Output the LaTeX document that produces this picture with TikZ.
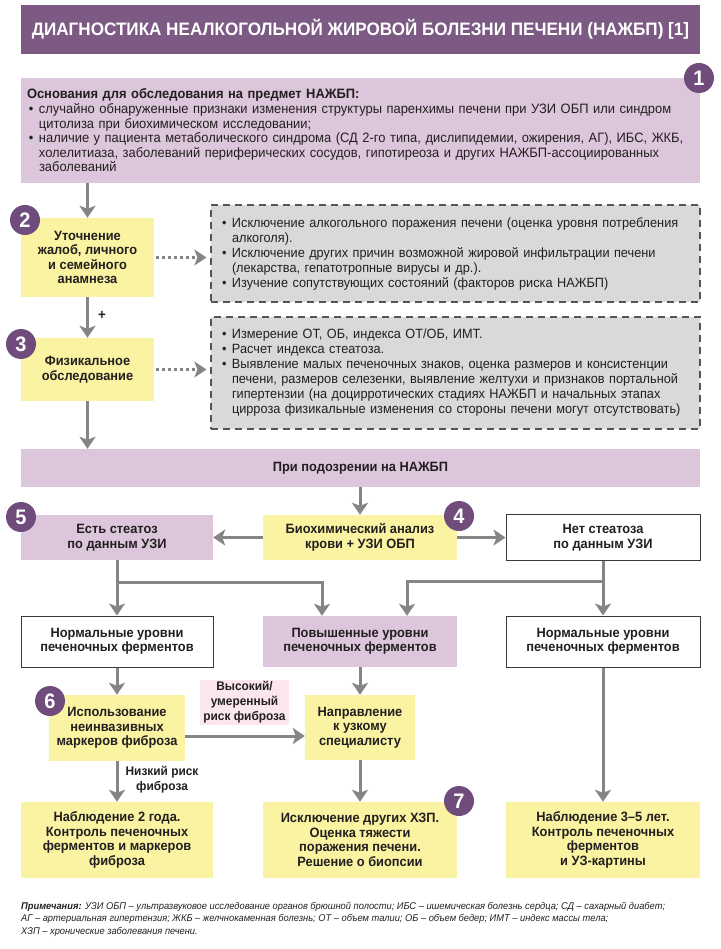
\documentclass[tikz,border=0pt]{standalone}
\usepackage{fontspec}
\setmainfont{Liberation Sans}[FakeStretch=0.95]
\usetikzlibrary{arrows.meta}

\definecolor{titlec}{HTML}{7C5A83}
\definecolor{numc}{HTML}{6F4C7B}
\definecolor{lil}{HTML}{DCC6DB}
\definecolor{yel}{HTML}{FAF3A1}
\definecolor{lgrey}{HTML}{D9D9D9}
\definecolor{gbord}{HTML}{555555}
\definecolor{arrc}{HTML}{858585}
\definecolor{pinkc}{HTML}{FBE6EE}
\definecolor{wbord}{HTML}{3A3A3A}
\definecolor{txt}{HTML}{231F20}

\newcommand{\blt}{\hspace*{2pt}\makebox[10pt][l]{\textbullet}}
\newcommand{\hng}{\hspace*{12pt}}

\begin{document}
\begin{tikzpicture}[x=1pt,y=-1pt,
  box/.style={rectangle, align=center, inner sep=2pt, text=txt,
    font=\bfseries\fontsize{13.5}{14.5}\selectfont},
  yel/.style={box, fill=yel},
  lil/.style={box, fill=lil},
  wht/.style={box, draw=wbord, line width=1pt, fill=white},
  note/.style={rectangle, draw=gbord, dash pattern=on 7pt off 5pt, line width=1.2pt,
    fill=lgrey, align=left, text=txt, text width=471pt, inner xsep=9pt,
    font=\fontsize{13.4}{15}\selectfont},
  num/.style={circle, fill=numc, text=white, inner sep=0pt, minimum size=30pt,
    font=\bfseries\fontsize{21}{21}\selectfont},
  arr/.style={draw=arrc, line width=3pt, -{Stealth[length=12pt,width=16pt,inset=3pt]}},
  dotarr/.style={arr, dash pattern=on 2.5pt off 3.5pt, shorten <=2pt, shorten >=4pt}]
\useasboundingbox (0,0) rectangle (720,949);

% title
\node[fill=titlec, minimum width=679pt, minimum height=49pt, text=white,
  font=\bfseries\fontsize{18}{18}\selectfont] (title) at (360.5,29.5)
  {ДИАГНОСТИКА НЕАЛКОГОЛЬНОЙ ЖИРОВОЙ БОЛЕЗНИ ПЕЧЕНИ (НАЖБП) [1]};

% 1
\node[fill=lil, minimum width=679pt, minimum height=105pt, text width=667pt,
  inner xsep=6pt, align=left, text=txt, font=\fontsize{13.6}{14.6}\selectfont] (osn) at (360.5,130.5)
  {\textbf{Основания для обследования на предмет НАЖБП:}\\
   \blt случайно обнаруженные признаки изменения структуры паренхимы печени при УЗИ ОБП или синдром\\
   \hng цитолиза при биохимическом исследовании;\\
   \blt наличие у пациента метаболического синдрома (СД 2-го типа, дислипидемии, ожирения, АГ), ИБС, ЖКБ,\\
   \hng холелитиаза, заболеваний периферических сосудов, гипотиреоза и других НАЖБП-ассоциированных\\
   \hng заболеваний};

% 2, 3
\node[yel, minimum width=133pt, minimum height=79pt] (utoch) at (87.5,257.5)
  {Уточнение\\жалоб, личного\\и семейного\\анамнеза};
\node[yel, minimum width=133pt, minimum height=63pt] (fiz) at (87.5,369.5)
  {Физикальное\\обследование};
\node[note, minimum height=97pt] (excA) at (455.5,253.5)
  {\blt Исключение алкогольного поражения печени (оценка уровня потребления\\
   \hng алкоголя).\\
   \blt Исключение других причин возможной жировой инфильтрации печени\\
   \hng (лекарства, гепатотропные вирусы и др.).\\
   \blt Изучение сопутствующих состояний (факторов риска НАЖБП)};
\node[note, minimum height=112pt] (excB) at (455.5,373)
  {\blt Измерение ОТ, ОБ, индекса ОТ/ОБ, ИМТ.\\
   \blt Расчет индекса стеатоза.\\
   \blt Выявление малых печеночных знаков, оценка размеров и консистенции\\
   \hng печени, размеров селезенки, выявление желтухи и признаков портальной\\
   \hng гипертензии (на доцирротических стадиях НАЖБП и начальных этапах\\
   \hng цирроза физикальные изменения со стороны печени могут отсутствовать)};
\node[font=\bfseries\fontsize{14}{14}\selectfont, text=txt] (plus) at (102,315) {+};

% suspicion
\node[lil, minimum width=679pt, minimum height=38pt] (podozr) at (360.5,468)
  {При подозрении на НАЖБП};

% 4, 5
\node[lil, minimum width=192pt, minimum height=45pt] (est) at (117,537.5)
  {Есть стеатоз\\по данным УЗИ};
\node[yel, minimum width=194pt, minimum height=45pt] (bio) at (360,537.5)
  {Биохимический анализ\\крови + УЗИ ОБП};
\node[wht, minimum width=194pt, minimum height=46pt] (net) at (603,537.5)
  {Нет стеатоза\\по данным УЗИ};

\node[wht, minimum width=192pt, minimum height=51pt] (normL) at (117,641.5)
  {Нормальные уровни\\печеночных ферментов};
\node[lil, minimum width=194pt, minimum height=51pt] (povysh) at (360,641.5)
  {Повышенные уровни\\печеночных ферментов};
\node[wht, minimum width=194pt, minimum height=51pt] (normR) at (603,641.5)
  {Нормальные уровни\\печеночных ферментов};

% 6
\node[yel, minimum width=136pt, minimum height=66pt] (isp) at (117,728)
  {Использование\\неинвазивных\\маркеров фиброза};
\node[yel, minimum width=110pt, minimum height=65pt] (napr) at (360,727.5)
  {Направление\\к узкому\\специалисту};
\node[box, fill=pinkc, minimum width=89pt, minimum height=45pt,
  font=\bfseries\fontsize{12.5}{15}\selectfont] (risk) at (244.5,702.5)
  {Высокий/\\умеренный\\риск фиброза};
\node[box, font=\bfseries\fontsize{12.5}{15}\selectfont] (low) at (162,779.5)
  {Низкий риск\\фиброза};

% 7
\node[yel, minimum width=192pt, minimum height=76pt] (obs2) at (117,840)
  {Наблюдение 2 года.\\Контроль печеночных\\ферментов и маркеров\\фиброза};
\node[yel, minimum width=194pt, minimum height=76pt] (excl) at (360,840)
  {Исключение других ХЗП.\\Оценка тяжести\\поражения печени.\\Решение о биопсии};
\node[yel, minimum width=194pt, minimum height=76pt] (obs35) at (603,840)
  {Наблюдение 3--5 лет.\\Контроль печеночных\\ферментов\\и УЗ-картины};

% connectors
\coordinate (brL) at (117,582);
\coordinate (brR) at (603,581);
\coordinate (rk) at (0,736);
\draw[arr] (utoch.north |- osn.south) -- (utoch.north);
\draw[arr] (utoch) -- (fiz);
\draw[arr] (fiz.south) -- (fiz.south |- podozr.north);
\draw[arr] (bio |- podozr.south) -- (bio.north);
\draw[arr] (bio) -- (est);
\draw[arr] (bio) -- (net);
\draw[arr] (est) -- (normL);
\draw[arr] (brL) -| ([xshift=-38pt]povysh.north);
\draw[arr] (net) -- (normR);
\draw[arr] (brR) -| ([xshift=47pt]povysh.north);
\draw[arr] (normL) -- (isp);
\draw[arr] (povysh) -- (napr);
\draw[arr] (isp.east |- rk) -- (napr.west |- rk);
\draw[arr] (isp) -- (obs2);
\draw[arr] (napr) -- (excl);
\draw[arr] (normR) -- (obs35);
\draw[dotarr] (utoch.east) -- (excA.west |- utoch.east);
\draw[dotarr] (fiz.east) -- (excB.west |- fiz.east);

% numbers
\node[num] (n1) at (699,78) {1};
\node[num] (n2) at (25,220) {2};
\node[num] (n3) at (21,344) {3};
\node[num] (n4) at (459,516) {4};
\node[num] (n5) at (21,517) {5};
\node[num] (n6) at (50,701) {6};
\node[num] (n7) at (459,801) {7};

% notes
\node[anchor=north west, align=left, inner sep=0pt, text=txt,
  font=\itshape\fontsize{9.8}{12.5}\selectfont] (prim) at (21,902)
  {\textbf{Примечания:} УЗИ ОБП -- ультразвуковое исследование органов брюшной полости; ИБС -- ишемическая болезнь сердца; СД -- сахарный диабет;\\
   АГ -- артериальная гипертензия; ЖКБ -- желчнокаменная болезнь; ОТ -- объем талии; ОБ -- объем бедер; ИМТ -- индекс массы тела;\\
   ХЗП -- хронические заболевания печени.};
\end{tikzpicture}
\end{document}
